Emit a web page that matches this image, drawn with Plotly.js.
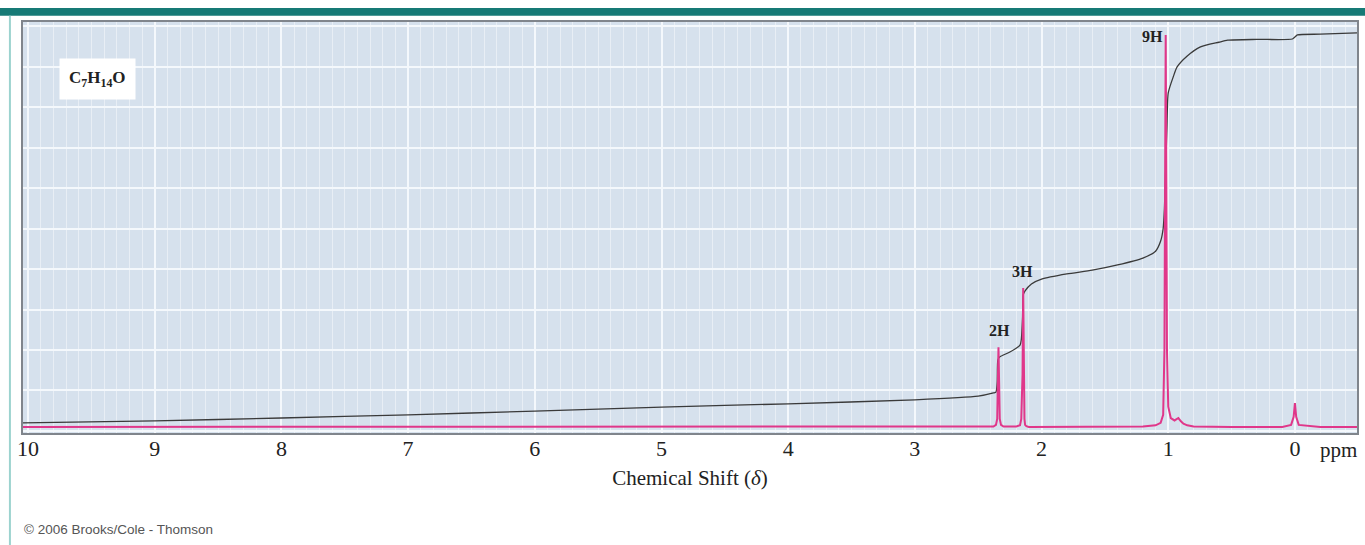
<!DOCTYPE html>
<html>
<head>
<meta charset="utf-8">
<script src="https://cdn.plot.ly/plotly-3.0.1.min.js"></script>
<style>html,body{margin:0;padding:0;background:#fff;}#chart{width:1365px;height:545px;}</style>
</head>
<body>
<div id="chart"></div>
<script>
// Spectrum (pink) : chemical shift (ppm) and intensity (arbitrary units)
const spectrumPpm = [10.04, 8, 6, 4, 2.5, 2.38, 2.36, 2.35, 2.345, 2.34, 2.335, 2.33, 2.32, 2.3, 2.2, 2.17, 2.16, 2.15, 2.145, 2.14, 2.135, 2.13, 2.12, 2.1, 1.8, 1.5, 1.2, 1.1, 1.06, 1.04, 1.03, 1.025, 1.02, 1.015, 1.01, 1.0, 0.98, 0.95, 0.92, 0.9, 0.88, 0.85, 0.8, 0.5, 0.1, 0.03, 0.01, 0.0, -0.01, -0.03, -0.2, -0.49];
const spectrumInt = [1.0, 1.0, 1.0, 1.0, 1.0, 1.1, 1.5, 3.0, 12.0, 20.7, 12.0, 3.0, 1.5, 1.1, 1.1, 1.4, 3.0, 14.0, 35.3, 14.0, 3.0, 1.5, 1.2, 1.0, 1.0, 1.0, 1.1, 1.4, 2.0, 4.0, 20.0, 60.0, 97.8, 60.0, 20.0, 6.0, 3.2, 2.6, 3.2, 2.4, 1.8, 1.4, 1.1, 1.0, 1.0, 1.5, 3.5, 6.9, 3.5, 1.5, 1.0, 1.0];

// Integral trace (dark line)
const integralPpm = [10.04, 9, 8, 7, 6, 5, 4, 3, 2.5, 2.38, 2.36, 2.35, 2.345, 2.33, 2.25, 2.17, 2.16, 2.15, 2.145, 2.13, 2.08, 2.0, 1.8, 1.6, 1.4, 1.2, 1.1, 1.06, 1.04, 1.03, 1.02, 1.01, 1.0, 0.96, 0.93, 0.85, 0.75, 0.6, 0.53, 0.3, 0.02, 0.0, -0.02, -0.2, -0.49];
const integralVal = [2.0, 2.5, 3.2, 4.0, 4.9, 5.9, 6.7, 7.7, 8.6, 9.4, 9.6, 12.0, 17.5, 18.3, 19.5, 21.2, 22.5, 28.0, 33.6, 34.6, 36.3, 37.5, 38.8, 39.7, 41.0, 42.7, 44.4, 46.9, 50.0, 55.0, 65.0, 75.0, 83.5, 87.5, 89.9, 92.6, 94.8, 96.0, 96.5, 96.7, 96.8, 97.3, 97.8, 98.0, 98.3];

// Tick labels and peak labels
const tickVals = [10, 9, 8, 7, 6, 5, 4, 3, 2, 1, 0];
const tickText = ["10", "9", "8", "7", "6", "5", "4", "3", "2", "1", "0"];
const peakLabels = ["2H", "3H", "9H"];
const peakLabelPpm = [2.33, 2.154, 1.126];
const peakLabelVal = [24.9, 39.3, 97.3];

const serif = "Liberation Serif, Times New Roman, serif";

const traces = [
  {x: integralPpm, y: integralVal, type: "scatter", mode: "lines",
   line: {color: "#3a3a3a", width: 1.3, shape: "spline", smoothing: 0.6}, hoverinfo: "skip"},
  {x: spectrumPpm, y: spectrumInt, type: "scatter", mode: "lines",
   line: {color: "#e0378a", width: 2}, hoverinfo: "skip"}
];

const annotations = peakLabels.map((t, i) => ({
  x: peakLabelPpm[i], y: peakLabelVal[i], xref: "x", yref: "y", text: "<b>" + t + "</b>",
  showarrow: false, xanchor: "center", yanchor: "middle",
  font: {family: serif, size: 16, color: "#222"}
}));

annotations.push({
  xref: "paper", yref: "paper", x: 0.0562, y: 0.861, text: "<b>C<sub>7</sub>H<sub>14</sub>O</b>",
  showarrow: false, bgcolor: "#ffffff", borderpad: 9, xanchor: "center", yanchor: "middle",
  font: {family: serif, size: 17, color: "#222"}
});
annotations.push({
  xref: "paper", yref: "paper", x: 0.9708, y: -0.008, text: "ppm", showarrow: false,
  xanchor: "left", yanchor: "top", font: {family: serif, size: 21, color: "#222"}
});
annotations.push({
  xref: "paper", yref: "paper", x: -0.0008, y: -0.236, text: "© 2006 Brooks/Cole - Thomson",
  showarrow: false, xanchor: "left", yanchor: "middle",
  font: {family: "Liberation Sans, Arial, sans-serif", size: 13.5, color: "#555"}
});

const shapes = [
  {type: "rect", xref: "paper", yref: "paper", x0: -0.0175, x1: 1.01, y0: 1.015, y1: 1.034,
   fillcolor: "#167a76", line: {width: 0}, layer: "above"},
  {type: "line", xref: "paper", yref: "paper", x0: -0.0098, x1: -0.0098, y0: -0.28, y1: 1.015,
   line: {color: "#9cd3cf", width: 2}}
];

const layout = {
  width: 1365, height: 545,
  margin: {l: 23, r: 8, t: 22, b: 112},
  paper_bgcolor: "#ffffff", plot_bgcolor: "#d6e1ed",
  showlegend: false,
  xaxis: {
    range: [10.04, -0.49], tickvals: tickVals, ticktext: tickText, ticks: "",
    ticklabelstandoff: -5,
    showgrid: true, gridcolor: "#f4f8fc", gridwidth: 2,
    minor: {dtick: 0.1, showgrid: true, gridcolor: "rgba(255,255,255,0.45)", gridwidth: 1},
    zeroline: false, showline: true, linecolor: "#80858c", linewidth: 2, mirror: true,
    tickfont: {family: serif, size: 22, color: "#222"},
    title: {text: "Chemical Shift (<i>δ</i>)", font: {family: serif, size: 21, color: "#222"}, standoff: 10}
  },
  yaxis: {
    range: [-0.5, 101], dtick: 10, tick0: 0, showticklabels: false, ticks: "",
    showgrid: true, gridcolor: "#f4f8fc", gridwidth: 2,
    zeroline: false, showline: true, linecolor: "#80858c", linewidth: 2, mirror: true
  },
  annotations: annotations,
  shapes: shapes
};

Plotly.newPlot("chart", traces, layout, {displayModeBar: false, staticPlot: true});
</script>
</body>
</html>
